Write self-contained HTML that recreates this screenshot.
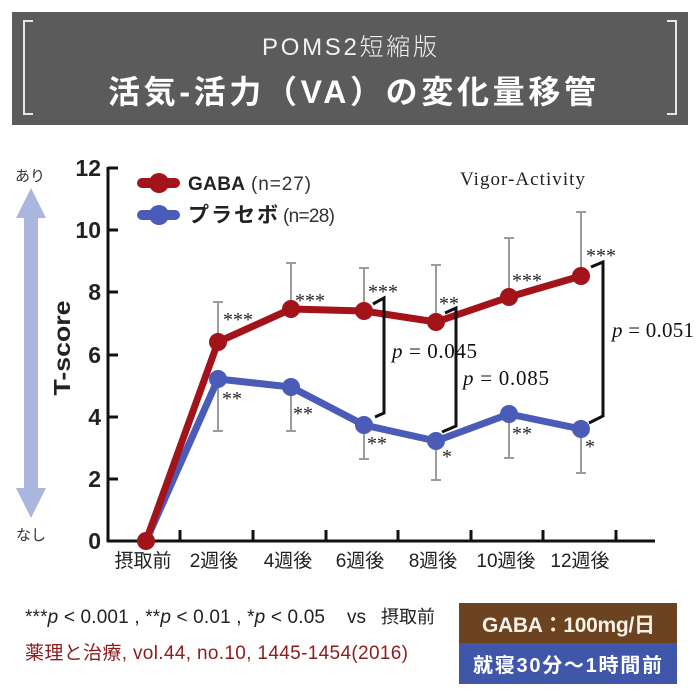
<!DOCTYPE html>
<html>
<head>
<meta charset="utf-8">
<style>
html,body{margin:0;padding:0;background:#fff;}
svg{display:block;}
</style>
</head>
<body>
<svg width="700" height="692" viewBox="0 0 700 692" xmlns="http://www.w3.org/2000/svg">
  <rect x="0" y="0" width="700" height="692" fill="#ffffff"/>
  <!-- Header -->
  <rect x="12" y="12" width="676" height="113" fill="#5b5b5b"/>
  <path d="M33,21 H24 V114 H33" fill="none" stroke="#e6e6e6" stroke-width="2"/>
  <path d="M667,21 H676 V114 H667" fill="none" stroke="#e6e6e6" stroke-width="2"/>
  <text x="262" y="55" font-family="'Liberation Sans','Noto Sans CJK JP',sans-serif" font-size="24" font-weight="300" fill="#f2f2f2" textLength="175" lengthAdjust="spacing">POMS2短縮版</text>
  <text x="108" y="103" font-family="'Liberation Sans','Noto Sans CJK JP',sans-serif" font-size="32" font-weight="bold" fill="#ffffff" textLength="488" lengthAdjust="spacing">活気-活力（VA）の変化量移管</text>

  <!-- Side arrow -->
  <polygon points="31,188 46,218 38,218 38,488 46,488 31,518 16,488 24,488 24,218 16,218" fill="#aab6de"/>
  <text x="30" y="181" text-anchor="middle" font-family="'Liberation Sans','Noto Sans CJK JP',sans-serif" font-size="15" fill="#333">あり</text>
  <text x="31" y="540" text-anchor="middle" font-family="'Liberation Sans','Noto Sans CJK JP',sans-serif" font-size="15" fill="#333">なし</text>

  <!-- T-score label -->
  <text transform="translate(70,348) rotate(-90)" x="0" y="0" text-anchor="middle" font-family="'Liberation Sans',sans-serif" font-size="23" font-weight="bold" fill="#222" textLength="95" lengthAdjust="spacingAndGlyphs">T-score</text>

  <!-- Axes -->
  <g stroke="#111" stroke-width="3" fill="none">
    <line x1="108" y1="167" x2="108" y2="542"/>
    <line x1="107" y1="541" x2="655" y2="541"/>
    <line x1="108" y1="168" x2="118" y2="168"/>
    <line x1="108" y1="230" x2="118" y2="230"/>
    <line x1="108" y1="292" x2="118" y2="292"/>
    <line x1="108" y1="355" x2="118" y2="355"/>
    <line x1="108" y1="417" x2="118" y2="417"/>
    <line x1="108" y1="479" x2="118" y2="479"/>
    <line x1="180" y1="541" x2="180" y2="530"/>
    <line x1="253" y1="541" x2="253" y2="530"/>
    <line x1="326" y1="541" x2="326" y2="530"/>
    <line x1="398" y1="541" x2="398" y2="530"/>
    <line x1="471" y1="541" x2="471" y2="530"/>
    <line x1="543" y1="541" x2="543" y2="530"/>
    <line x1="616" y1="541" x2="616" y2="530"/>
  </g>
  <g font-family="'Liberation Sans',sans-serif" font-size="23" font-weight="bold" fill="#222" text-anchor="end">
    <text x="101" y="176">12</text>
    <text x="101" y="238">10</text>
    <text x="101" y="300">8</text>
    <text x="101" y="363">6</text>
    <text x="101" y="425">4</text>
    <text x="101" y="487">2</text>
    <text x="101" y="549">0</text>
  </g>
  <g font-family="'Liberation Sans','Noto Sans CJK JP',sans-serif" font-size="19" fill="#222" text-anchor="middle">
    <text x="143" y="567">摂取前</text>
    <text x="214" y="567">2週後</text>
    <text x="288" y="567">4週後</text>
    <text x="360" y="567">6週後</text>
    <text x="433" y="567">8週後</text>
    <text x="506" y="567">10週後</text>
    <text x="580" y="567">12週後</text>
  </g>

  <!-- Error bars -->
  <g stroke="#9c9c9c" stroke-width="2" fill="none">
    <line x1="218" y1="342" x2="218" y2="302"/><line x1="213" y1="302" x2="223" y2="302"/>
    <line x1="291" y1="309" x2="291" y2="263"/><line x1="286" y1="263" x2="296" y2="263"/>
    <line x1="364" y1="311" x2="364" y2="268"/><line x1="359" y1="268" x2="369" y2="268"/>
    <line x1="436" y1="322" x2="436" y2="265"/><line x1="431" y1="265" x2="441" y2="265"/>
    <line x1="509" y1="297" x2="509" y2="238"/><line x1="504" y1="238" x2="514" y2="238"/>
    <line x1="581" y1="276" x2="581" y2="212"/><line x1="576" y1="212" x2="586" y2="212"/>
    <line x1="218" y1="379" x2="218" y2="431"/><line x1="213" y1="431" x2="223" y2="431"/>
    <line x1="291" y1="387" x2="291" y2="431"/><line x1="286" y1="431" x2="296" y2="431"/>
    <line x1="364" y1="425" x2="364" y2="459"/><line x1="359" y1="459" x2="369" y2="459"/>
    <line x1="436" y1="441" x2="436" y2="480"/><line x1="431" y1="480" x2="441" y2="480"/>
    <line x1="509" y1="414" x2="509" y2="458"/><line x1="504" y1="458" x2="514" y2="458"/>
    <line x1="581" y1="429" x2="581" y2="473"/><line x1="576" y1="473" x2="586" y2="473"/>
  </g>

  <!-- Blue series -->
  <polyline points="146,541 218,379 291,387 364,425 436,441 509,414 581,429" fill="none" stroke="#4a5cb8" stroke-width="7" stroke-linejoin="round"/>
  <g fill="#4a5cb8">
    <circle cx="218" cy="379" r="9"/><circle cx="291" cy="387" r="9"/>
    <circle cx="364" cy="425" r="9"/><circle cx="436" cy="441" r="9"/>
    <circle cx="509" cy="414" r="9"/><circle cx="581" cy="429" r="9"/>
  </g>
  <!-- Red series -->
  <polyline points="146,541 218,342 291,309 364,311 436,322 509,297 581,276" fill="none" stroke="#a3131a" stroke-width="7" stroke-linejoin="round"/>
  <g fill="#a3131a">
    <circle cx="146" cy="541" r="9"/>
    <circle cx="218" cy="342" r="9"/><circle cx="291" cy="309" r="9"/>
    <circle cx="364" cy="311" r="9"/><circle cx="436" cy="322" r="9"/>
    <circle cx="509" cy="297" r="9"/><circle cx="581" cy="276" r="9"/>
  </g>

  <!-- Asterisks -->
  <g font-family="'Liberation Serif',serif" font-size="20" fill="#222">
    <text x="223" y="326">***</text>
    <text x="295" y="307">***</text>
    <text x="368" y="298">***</text>
    <text x="439" y="310">**</text>
    <text x="512" y="287">***</text>
    <text x="586" y="262">***</text>
    <text x="222" y="405">**</text>
    <text x="293" y="420">**</text>
    <text x="367" y="450">**</text>
    <text x="442" y="463">*</text>
    <text x="512" y="440">**</text>
    <text x="585" y="453">*</text>
  </g>

  <!-- Brackets -->
  <g stroke="#111" stroke-width="3" fill="none" stroke-linejoin="miter">
    <polyline points="373,304 384,298 384,413 375,417"/>
    <polyline points="445,313 456,308 456,426 442,432"/>
    <polyline points="591,267 603,262 603,416 589,423"/>
  </g>
  <g font-family="'Liberation Serif',serif" font-size="21" fill="#111">
    <text x="392" y="358" textLength="85" lengthAdjust="spacing"><tspan font-style="italic">p</tspan> = 0.045</text>
    <text x="463" y="385" textLength="86" lengthAdjust="spacing"><tspan font-style="italic">p</tspan> = 0.085</text>
    <text x="612" y="337" textLength="82" lengthAdjust="spacing"><tspan font-style="italic">p</tspan> = 0.051</text>
  </g>
  <text x="460" y="185" font-family="'Liberation Serif',serif" font-size="19" fill="#222" textLength="125" lengthAdjust="spacing">Vigor-Activity</text>

  <!-- Legend -->
  <line x1="142" y1="183" x2="175" y2="183" stroke="#a3131a" stroke-width="10" stroke-linecap="round"/>
  <circle cx="159" cy="183" r="10" fill="#a3131a"/>
  <line x1="142" y1="215" x2="175" y2="215" stroke="#4a5cb8" stroke-width="10" stroke-linecap="round"/>
  <circle cx="159" cy="215" r="10" fill="#4a5cb8"/>
  <text x="188" y="190" font-family="'Liberation Sans',sans-serif" font-size="19" font-weight="bold" fill="#222" textLength="57" lengthAdjust="spacing">GABA</text>
  <text x="251" y="190" font-family="'Liberation Sans',sans-serif" font-size="19" fill="#333" textLength="60" lengthAdjust="spacing">(n=27)</text>
  <text x="188" y="222" font-family="'Liberation Sans','Noto Sans CJK JP',sans-serif" font-size="21" font-weight="bold" fill="#222" textLength="90" lengthAdjust="spacing">プラセボ</text>
  <text x="283" y="222" font-family="'Liberation Sans',sans-serif" font-size="19" fill="#333" textLength="52" lengthAdjust="spacing">(n=28)</text>

  <!-- Footnotes -->
  <text x="25" y="623" font-family="'Liberation Sans',sans-serif" font-size="19" fill="#222" textLength="300" lengthAdjust="spacing">***<tspan font-style="italic">p</tspan> &lt; 0.001 , **<tspan font-style="italic">p</tspan> &lt; 0.01 , *<tspan font-style="italic">p</tspan> &lt; 0.05</text>
  <text x="347" y="623" font-family="'Liberation Sans',sans-serif" font-size="19" fill="#222">vs</text>
  <text x="381" y="623" font-family="'Liberation Sans','Noto Sans CJK JP',sans-serif" font-size="18" fill="#222" textLength="54" lengthAdjust="spacing">摂取前</text>
  <text x="25" y="659" font-family="'Liberation Sans','Noto Sans CJK JP',sans-serif" font-size="19" fill="#8c1d1d" textLength="383" lengthAdjust="spacing">薬理と治療, vol.44, no.10, 1445-1454(2016)</text>

  <!-- Boxes -->
  <rect x="459" y="603" width="218" height="40" fill="#6c4320"/>
  <rect x="459" y="643" width="218" height="41" fill="#3f56a9"/>
  <text x="482" y="632" font-family="'Liberation Sans','Noto Sans CJK JP',sans-serif" font-size="21" font-weight="bold" fill="#f7f1e8" textLength="173" lengthAdjust="spacing">GABA：100mg/日</text>
  <text x="473" y="672" font-family="'Liberation Sans','Noto Sans CJK JP',sans-serif" font-size="20" font-weight="bold" fill="#ffffff" textLength="189" lengthAdjust="spacing">就寝30分～1時間前</text>
</svg>
</body>
</html>
